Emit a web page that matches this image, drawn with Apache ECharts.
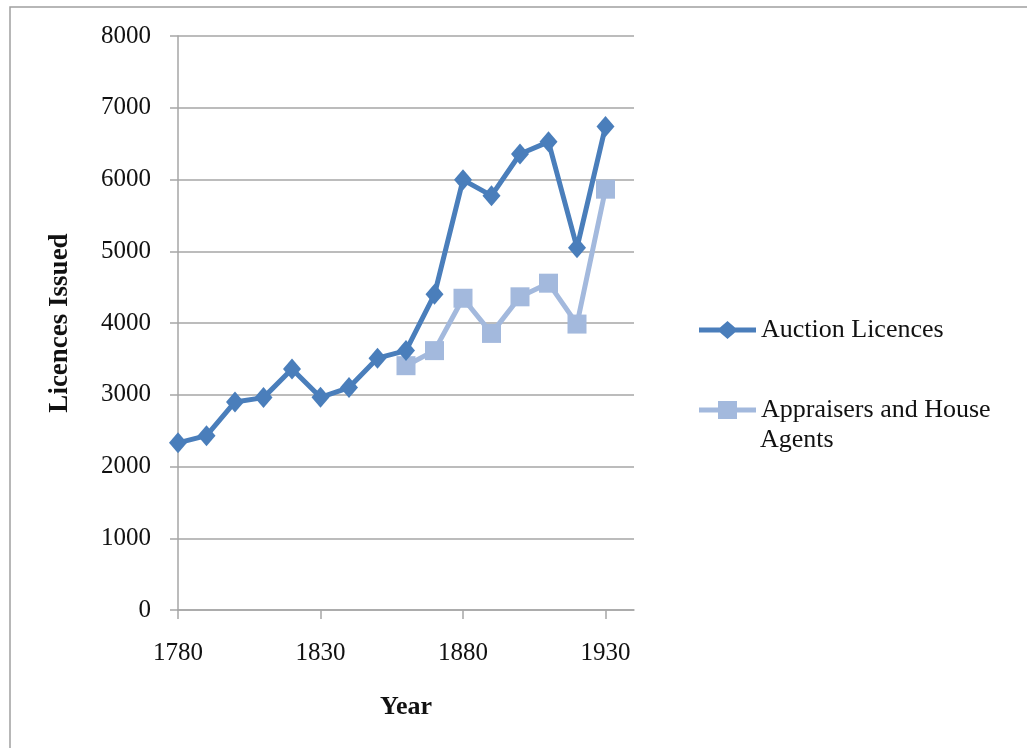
<!DOCTYPE html>
<html>
<head>
<meta charset="utf-8">
<script src="https://cdn.jsdelivr.net/npm/echarts@6/dist/echarts.min.js"></script>
<style>
  html, body { margin: 0; padding: 0; background: #fff; }
  #chart { width: 1027px; height: 748px; }
</style>
</head>
<body>
<div id="chart"></div>
<script>
// years, one per decade (1940 left empty so the axis runs a bit past 1930)
const years = ['1780', '1790', '1800', '1810', '1820', '1830', '1840', '1850', '1860',
  '1870', '1880', '1890', '1900', '1910', '1920', '1930', '1940'];
const auctionLicences = [2330, 2430, 2900, 2960, 3360, 2965, 3100, 3510, 3615,
  4400, 5995, 5775, 6355, 6525, 5050, 6740, null];
const appraisersAgents = [null, null, null, null, null, null, null, null, 3405,
  3615, 4345, 3855, 4365, 4555, 3985, 5865, null];
const yTicks = [0, 1000, 2000, 3000, 4000, 5000, 6000, 7000, 8000];

const axisGray = '#a6a6a6';
const font = '"Liberation Serif", "DejaVu Serif", serif';

// legend icons: thick line with the marker in the middle
const diamondIcon = 'path://M0,6.5H21L28.5,0L36,6.5H57V11.5H36L28.5,18L21,11.5H0Z';
const squareIcon = 'path://M0,6.5H19V0H38V6.5H57V11.5H38V18H19V11.5H0Z';

let myChart = echarts.init(document.getElementById('chart'));
myChart.setOption({
  animation: false,
  textStyle: { fontFamily: font },
  graphic: [
    {
      // outer frame
      type: 'rect',
      shape: { x: 10, y: 7, width: 1040, height: 760 },
      style: { fill: 'none', stroke: '#a0a0a0', lineWidth: 1.5 }
    },
    {
      // second line of the wrapped legend name
      type: 'text',
      left: 760,
      top: 427,
      style: { text: 'Agents', font: '26px ' + font, fill: '#111' }
    }
  ],
  grid: { left: 178, top: 36, width: 456, height: 574 },
  legend: {
    orient: 'vertical',
    left: 699,
    top: 315,
    padding: 0,
    itemGap: 50,
    itemWidth: 57,
    itemHeight: 18,
    textStyle: { fontSize: 26, color: '#111', fontFamily: font, lineHeight: 30 },
    formatter: function (name) {
      return name === 'Appraisers and House Agents' ? 'Appraisers and House' : name;
    },
    data: [
      { name: 'Auction Licences', icon: diamondIcon },
      { name: 'Appraisers and House Agents', icon: squareIcon }
    ]
  },
  xAxis: {
    type: 'category',
    data: years,
    boundaryGap: false,
    name: 'Year',
    nameLocation: 'middle',
    nameGap: 84,
    nameTextStyle: { fontSize: 26, fontWeight: 'bold', color: '#111', fontFamily: font },
    axisLine: { lineStyle: { color: axisGray, width: 1.5 } },
    axisTick: { interval: 4, length: 9, inside: false, lineStyle: { color: axisGray, width: 1.5 } },
    axisLabel: { interval: 4, fontSize: 25, color: '#111', margin: 31 },
    splitLine: { show: false }
  },
  yAxis: {
    type: 'value',
    min: yTicks[0],
    max: yTicks[yTicks.length - 1],
    interval: 1000,
    name: 'Licences Issued',
    nameLocation: 'middle',
    nameGap: 104,
    nameTextStyle: { fontSize: 27, fontWeight: 'bold', color: '#111', fontFamily: font },
    axisLine: { show: true, lineStyle: { color: axisGray, width: 1.5 } },
    axisTick: { show: true, length: 8, lineStyle: { color: axisGray, width: 1.5 } },
    axisLabel: { fontSize: 25, color: '#111', margin: 27, formatter: function (v) { return String(v); } },
    splitLine: { lineStyle: { color: axisGray, width: 1.5 } }
  },
  series: [
    {
      name: 'Appraisers and House Agents',
      type: 'line',
      data: appraisersAgents,
      color: '#a3b9dd',
      symbol: 'rect',
      symbolSize: 19,
      showAllSymbol: true,
      lineStyle: { width: 5 },
      z: 2
    },
    {
      name: 'Auction Licences',
      type: 'line',
      data: auctionLicences,
      color: '#4a7ebb',
      symbol: 'diamond',
      symbolSize: [18, 21],
      showAllSymbol: true,
      lineStyle: { width: 5 },
      z: 3
    }
  ]
});
</script>
</body>
</html>
